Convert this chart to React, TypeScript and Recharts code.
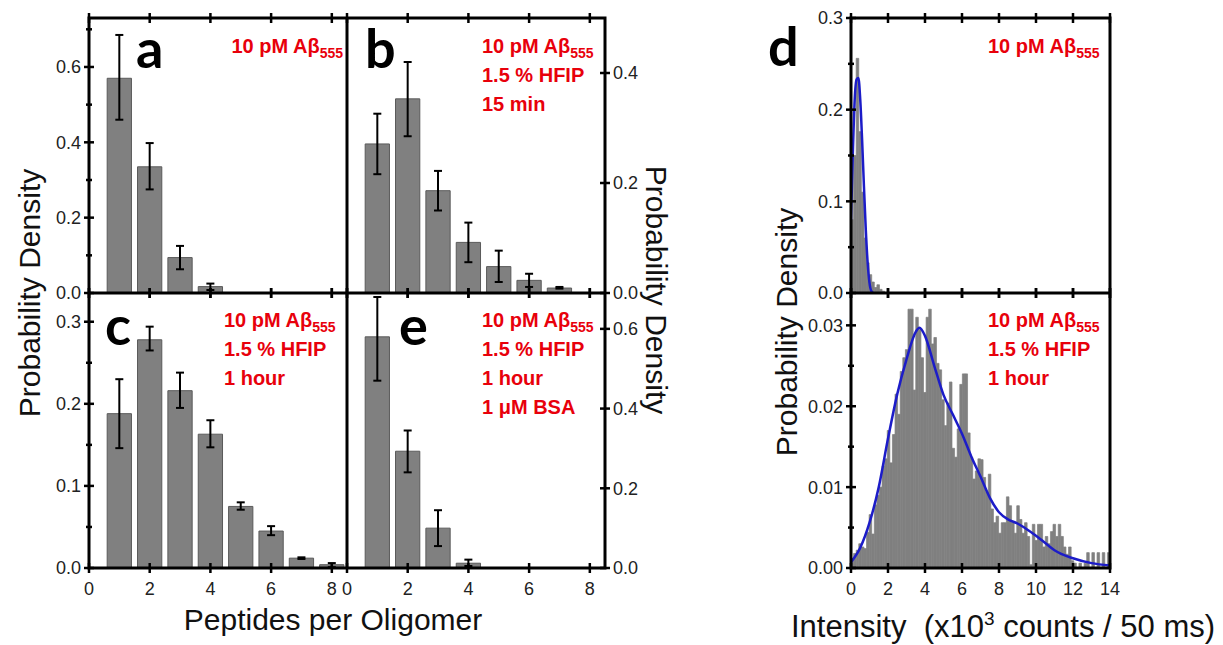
import React from 'react';
import { ComposedChart, Bar, Line, XAxis, YAxis, ErrorBar } from 'recharts';

const FONT = '"Liberation Sans", Arial, Helvetica, sans-serif';
const LETTER_FONT = 'Lato, "Open Sans", "Liberation Sans", sans-serif';
const BAR_FILL = '#808080';
const BAR_STROKE = '#5a5a5a';
const RED = '#e8000b';
const BLUE = '#1c1cc8';

// ---------- oligomer size distributions (panels a, b, c, e) ----------
const peptides = [1, 2, 3, 4, 5, 6, 7, 8];

const aValues = [0.57, 0.335, 0.094, 0.017, 0.001];
const aLow = [0.46, 0.275, 0.063, 0.008, null];
const aHigh = [0.685, 0.398, 0.125, 0.025, null];

const bValues = [0.271, 0.353, 0.186, 0.092, 0.048, 0.023, 0.009];
const bLow = [0.216, 0.285, 0.15, 0.056, 0.02, 0.011, 0.008];
const bHigh = [0.326, 0.42, 0.222, 0.128, 0.077, 0.035, 0.011];

const cValues = [0.188, 0.278, 0.216, 0.163, 0.075, 0.045, 0.012, 0.004];
const cLow = [0.146, 0.265, 0.195, 0.147, 0.071, 0.04, 0.011, 0.001];
const cHigh = [0.23, 0.294, 0.238, 0.18, 0.08, 0.051, 0.013, 0.006];

const eValues = [0.58, 0.293, 0.1, 0.012];
const eLow = [0.47, 0.24, 0.055, 0.005];
const eHigh = [0.68, 0.345, 0.145, 0.021];

// tick labels
const oligoXTicks = [0, 2, 4, 6, 8];
const aYMajor = [0, 0.2, 0.4, 0.6];
const aYMinor = [0.1, 0.3, 0.5, 0.7];
const bYMajor = [0, 0.2, 0.4];
const cYMajor = [0, 0.1, 0.2, 0.3];
const cYMinor = [0.05, 0.15, 0.25];
const eYMajor = [0, 0.2, 0.4, 0.6];
const intensityXTicks = [0, 2, 4, 6, 8, 10, 12, 14];
const dTopYMajor = [0, 0.1, 0.2, 0.3];
const dTopYMinor = [0.05, 0.15, 0.25];
const dBotYMajor = [0, 0.01, 0.02, 0.03];
const dBotYMinor = [0.005, 0.015, 0.025];

// ---------- intensity histograms (panel d) ----------
const BIN_WIDTH = 0.14; // x10^3 counts / 50 ms
const dTopDensity = [0.08, 0.15, 0.256, 0.176, 0.11, 0.06, 0.033, 0.02, 0.012, 0.006, 0.009, 0.004, 0.002];
const dBottomDensity = [
  0.0012, 0.0018, 0.0022, 0.003, 0.0026, 0.0024, 0.0044, 0.0066, 0.0042, 0.0078,
  0.009, 0.01, 0.0126, 0.0135, 0.017, 0.013, 0.0165, 0.0215, 0.019, 0.0243,
  0.026, 0.027, 0.032, 0.032, 0.022, 0.031, 0.0295, 0.026, 0.0217, 0.031,
  0.032, 0.0277, 0.0285, 0.0253, 0.0245, 0.0208, 0.0176, 0.0204, 0.023, 0.0148,
  0.0137, 0.0172, 0.0227, 0.024, 0.024, 0.0167, 0.0137, 0.011, 0.012, 0.0135,
  0.0134, 0.0112, 0.0094, 0.0116, 0.0073, 0.0056, 0.0064, 0.0043, 0.0056, 0.0056,
  0.0088, 0.0077, 0.0056, 0.0043, 0.0077, 0.006, 0.0043, 0.0056, 0.0039, 0.0004,
  0.0054, 0.0034, 0.0054, 0.0054, 0.0026, 0.0039, 0.003, 0.0045, 0.0054, 0.0039,
  0.0054, 0.0039, 0.0026, 0.0017, 0.0026, 0.0009, 0.0006, 0.0, 0.0006, 0.0,
  0.0006, 0.0019, 0.0, 0.0019, 0.0, 0.0019, 0.0, 0.0019, 0.0, 0.0019,
];
const dTopFitX = [0, 0.1, 0.2, 0.3, 0.4, 0.5, 0.6, 0.7, 0.8, 0.9, 1.0, 1.1, 1.2];
const dTopFitY = [0.08, 0.153, 0.211, 0.233, 0.2345, 0.211, 0.167, 0.116, 0.069, 0.033, 0.011, 0.002, 0];
const dBotFitX = [0, 0.5, 1, 1.5, 2, 2.5, 3, 3.5, 3.7, 4, 4.5, 5, 5.5, 6, 6.5, 7, 7.5, 8, 8.5, 9, 9.5, 10, 10.5, 11, 12, 13, 14];
const dBotFitY = [0.0007, 0.0025, 0.0056, 0.01, 0.016, 0.0215, 0.0258, 0.0292, 0.0297, 0.0287, 0.025, 0.0214, 0.019, 0.0166, 0.0138, 0.0113, 0.0087, 0.0069, 0.006, 0.0055, 0.0048, 0.004, 0.0031, 0.0022, 0.0012, 0.0006, 0.0003];

// ---------- table builders ----------
const oligoTable = (vals: number[], lo: (number | null)[], hi: (number | null)[]) =>
  vals.map((v, i) => ({
    x: peptides[i],
    v,
    err: lo[i] == null || hi[i] == null ? null : [v - (lo[i] as number), (hi[i] as number) - v],
  }));
const histTable = (vals: number[]) => vals.map((v, i) => ({ x: (i + 0.5) * BIN_WIDTH, v }));
const fitTable = (xs: number[], ys: number[]) => xs.map((x, i) => ({ x, y: ys[i] }));

// ---------- layout ----------
const PAD_L = 70;
const PAD_R = 70;
const PAD_T = 12;
const PAD_B = 50;
const TICK_W = 2.5;

const near = (v: number, arr: number[]) => arr.some((a) => Math.abs(a - v) < 1e-9);

type PanelProps = {
  left: number;
  top: number;
  w: number;
  h: number;
  data: any[];
  xMax: number;
  yMax: number;
  xTicks: number[];
  showXLabels: boolean;
  yMajor: number[];
  yMinor: number[];
  yDigits: number;
  ySide: 'left' | 'right';
  barUnits: number;
  errors?: boolean;
  fit?: { x: number; y: number }[];
  hist?: boolean;
};

function Panel(p: PanelProps) {
  const W = p.w + PAD_L + PAD_R;
  const H = p.h + PAD_T + PAD_B;
  const barSize = (p.barUnits * p.w) / p.xMax;
  const yTicks = [...p.yMajor, ...p.yMinor].sort((a, b) => a - b);

  const xTick = (props: any) => {
    const x = props.x;
    const by = PAD_T + p.h;
    const ty = PAD_T;
    return (
      <g>
        <line x1={x} x2={x} y1={by - 5} y2={by + 5} stroke="#000" strokeWidth={TICK_W} />
        <line x1={x} x2={x} y1={ty - 5} y2={ty + 5} stroke="#000" strokeWidth={TICK_W} />
        {p.showXLabels && (
          <text x={x} y={by + 27} textAnchor="middle" fontSize={18} fontFamily={FONT} fill="#222">
            {props.payload.value}
          </text>
        )}
      </g>
    );
  };

  const yTick = (props: any) => {
    const y = props.y;
    const v = props.payload.value;
    const major = near(v, p.yMajor);
    const ax = p.ySide === 'left' ? PAD_L : PAD_L + p.w;
    const len = major ? 5 : 3;
    return (
      <g>
        <line x1={ax - len} x2={ax + len} y1={y} y2={y} stroke="#000" strokeWidth={TICK_W} />
        {major && (
          <text
            x={p.ySide === 'left' ? ax - 8 : ax + 8}
            y={y}
            dy="0.36em"
            textAnchor={p.ySide === 'left' ? 'end' : 'start'}
            fontSize={18}
            fontFamily={FONT}
            fill="#222"
          >
            {Number(v).toFixed(p.yDigits)}
          </text>
        )}
      </g>
    );
  };

  return (
    <div style={{ position: 'absolute', left: p.left - PAD_L, top: p.top - PAD_T, width: W, height: H }}>
      <ComposedChart
        width={W}
        height={H}
        data={p.data}
        margin={{
          top: PAD_T,
          bottom: 0,
          left: p.ySide === 'left' ? 0 : PAD_L,
          right: p.ySide === 'right' ? 0 : PAD_R,
        }}
      >
        <XAxis
          xAxisId="m"
          type="number"
          dataKey="x"
          domain={[0, p.xMax]}
          ticks={p.xTicks}
          interval={0}
          allowDataOverflow
          height={PAD_B}
          axisLine={false}
          tickLine={false}
          tick={xTick}
        />
        {p.fit && (
          <XAxis xAxisId="f" type="number" dataKey="x" domain={[0, p.xMax]} allowDataOverflow hide />
        )}
        <YAxis
          yAxisId="m"
          type="number"
          orientation={p.ySide}
          domain={[0, p.yMax]}
          ticks={yTicks}
          interval={0}
          allowDataOverflow
          width={p.ySide === 'left' ? PAD_L : PAD_R}
          axisLine={false}
          tickLine={false}
          tick={yTick}
        />
        <Bar
          xAxisId="m"
          yAxisId="m"
          dataKey="v"
          fill={BAR_FILL}
          stroke={p.hist ? BAR_FILL : BAR_STROKE}
          strokeWidth={p.hist ? 0.7 : 1}
          barSize={barSize}
          isAnimationActive={false}
        >
          {p.errors && <ErrorBar dataKey="err" width={4} strokeWidth={2} stroke="#000" direction="y" />}
        </Bar>
        {p.fit && (
          <Line
            xAxisId="f"
            yAxisId="m"
            data={p.fit}
            dataKey="y"
            type="monotone"
            stroke={BLUE}
            strokeWidth={2.5}
            dot={false}
            isAnimationActive={false}
          />
        )}
      </ComposedChart>
    </div>
  );
}

// panel frames (page coordinates)
const LEFT_X0 = 89;
const LEFT_XM = 347;
const LEFT_X1 = 605;
const Y0 = 18;
const YM = 293;
const Y1 = 568;
const D_X0 = 851;
const D_X1 = 1110;

function RedNote({ x, y, lines, anchor = 'start' }: { x: number; y: number; lines: string[]; anchor?: string }) {
  return (
    <g fontFamily={FONT} fontWeight="bold" fill={RED} textAnchor={anchor as any}>
      <text x={x} y={y} fontSize={20}>
        10 pM Aβ<tspan fontSize={14} dy={5}>555</tspan>
      </text>
      {lines.map((l, i) => (
        <text key={i} x={x} y={y + 29 * (i + 1)} fontSize={20}>
          {l}
        </text>
      ))}
    </g>
  );
}

export default function App() {
  const oligoW = LEFT_XM - LEFT_X0;
  const oligoW2 = LEFT_X1 - LEFT_XM;
  const ph = YM - Y0;
  const dW = D_X1 - D_X0;
  return (
    <div style={{ position: 'absolute', left: 0, top: 0, width: 1223, height: 645, background: '#fff', overflow: 'hidden' }}>
      <Panel left={LEFT_X0} top={Y0} w={oligoW} h={ph} data={oligoTable(aValues, aLow, aHigh)} xMax={8.5} yMax={0.73}
        xTicks={oligoXTicks} showXLabels={false} yMajor={aYMajor} yMinor={aYMinor} yDigits={1} ySide="left" barUnits={0.8} errors />
      <Panel left={LEFT_XM} top={Y0} w={oligoW2} h={ph} data={oligoTable(bValues, bLow, bHigh)} xMax={8.5} yMax={0.5}
        xTicks={oligoXTicks} showXLabels={false} yMajor={bYMajor} yMinor={[]} yDigits={1} ySide="right" barUnits={0.8} errors />
      <Panel left={LEFT_X0} top={YM} w={oligoW} h={ph} data={oligoTable(cValues, cLow, cHigh)} xMax={8.5} yMax={0.335}
        xTicks={oligoXTicks} showXLabels yMajor={cYMajor} yMinor={cYMinor} yDigits={1} ySide="left" barUnits={0.8} errors />
      <Panel left={LEFT_XM} top={YM} w={oligoW2} h={ph} data={oligoTable(eValues, eLow, eHigh)} xMax={8.5} yMax={0.69}
        xTicks={oligoXTicks} showXLabels yMajor={eYMajor} yMinor={[]} yDigits={1} ySide="right" barUnits={0.8} errors />
      <Panel left={D_X0} top={Y0} w={dW} h={ph} data={histTable(dTopDensity)} xMax={14} yMax={0.3}
        xTicks={intensityXTicks} showXLabels={false} yMajor={dTopYMajor} yMinor={dTopYMinor} yDigits={1} ySide="left"
        barUnits={BIN_WIDTH * 0.995} fit={fitTable(dTopFitX, dTopFitY)} hist />
      <Panel left={D_X0} top={YM} w={dW} h={ph} data={histTable(dBottomDensity)} xMax={14} yMax={0.034}
        xTicks={intensityXTicks} showXLabels yMajor={dBotYMajor} yMinor={dBotYMinor} yDigits={2} ySide="left"
        barUnits={BIN_WIDTH * 0.995} fit={fitTable(dBotFitX, dBotFitY)} hist />

      <svg width={1223} height={645} style={{ position: 'absolute', left: 0, top: 0, pointerEvents: 'none' }}>
        {/* frames */}
        <g fill="none" stroke="#000" strokeWidth={3}>
          <rect x={LEFT_X0} y={Y0} width={LEFT_X1 - LEFT_X0} height={Y1 - Y0} />
          <line x1={LEFT_XM} x2={LEFT_XM} y1={Y0} y2={Y1} />
          <line x1={LEFT_X0} x2={LEFT_X1} y1={YM} y2={YM} />
          <rect x={D_X0} y={Y0} width={D_X1 - D_X0} height={Y1 - Y0} />
          <line x1={D_X0} x2={D_X1} y1={YM} y2={YM} />
        </g>

        {/* panel letters */}
        <g fontFamily={LETTER_FONT} fontWeight="bold" fontSize={54} fill="#000">
          <text x={136} y={68}>a</text>
          <text x={365} y={68}>b</text>
          <text x={105} y={345}>c</text>
          <text x={399} y={345}>e</text>
          <text x={768} y={66}>d</text>
        </g>

        {/* annotations */}
        <RedNote x={343} y={53} lines={[]} anchor="end" />
        <RedNote x={482} y={53} lines={['1.5 % HFIP', '15 min']} />
        <RedNote x={224} y={327} lines={['1.5 % HFIP', '1 hour']} />
        <RedNote x={482} y={327} lines={['1.5 % HFIP', '1 hour', '1 μM BSA']} />
        <RedNote x={988} y={53} lines={[]} />
        <RedNote x={988} y={327} lines={['1.5 % HFIP', '1 hour']} />

        {/* axis titles */}
        <g fontFamily={FONT} fontSize={30} fill="#111">
          <text transform="translate(40,293) rotate(-90)" textAnchor="middle">Probability Density</text>
          <text transform="translate(646,290) rotate(90)" textAnchor="middle">Probability Density</text>
          <text transform="translate(797,332) rotate(-90)" textAnchor="middle">Probability Density</text>
          <text x={333} y={630} textAnchor="middle">Peptides per Oligomer</text>
          <text x={1003} y={637} textAnchor="middle" fontSize={31} style={{ whiteSpace: 'pre' }}>
            Intensity  (x10<tspan fontSize={19} dy={-12}>3</tspan>
            <tspan dy={12}> counts / 50 ms)</tspan>
          </text>
        </g>
      </svg>
    </div>
  );
}
